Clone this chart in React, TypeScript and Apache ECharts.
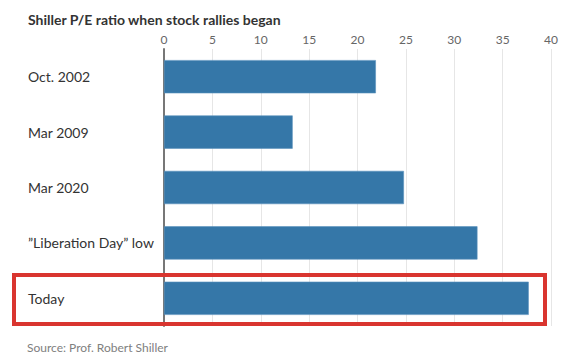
import React, { useEffect, useRef } from "react";
import * as echarts from "echarts";

const categories = ["Oct. 2002", "Mar 2009", "Mar 2020", "\u201dLiberation Day\u201d low", "Today"];
const peValues = [21.9, 13.3, 24.8, 32.4, 37.7];
const xTicks = [0, 5, 10, 15, 20, 25, 30, 35, 40];

export default function App() {
  const ref = useRef<HTMLDivElement>(null);
  useEffect(() => {
    if (!ref.current) return;
    const chart = echarts.init(ref.current, undefined, { renderer: "svg" });
    chart.setOption({
      animation: false,
      backgroundColor: "#ffffff",
      title: {
        text: "Shiller P/E ratio when stock rallies began",
        left: 23,
        top: 7,
        textStyle: { fontFamily: "Lato", fontWeight: "bold", fontSize: 14, color: "#333333" },
      },
      grid: { left: 164, right: 24, top: 49, bottom: 33, containLabel: false },
      xAxis: {
        type: "value",
        position: "top",
        min: xTicks[0],
        max: xTicks[xTicks.length - 1],
        interval: 5,
        axisLine: { show: false },
        axisTick: { show: false },
        axisLabel: {
          margin: 4,
          color: "#666666",
          fontSize: 12,
          fontFamily: "Liberation Sans Narrow, Lato",
        },
        splitLine: { show: true, lineStyle: { color: "#e6e6e6", width: 1 } },
      },
      yAxis: {
        type: "category",
        data: categories,
        inverse: true,
        axisLine: { show: true, lineStyle: { color: "#777777", width: 2 } },
        axisTick: { show: false },
        axisLabel: {
          align: "left",
          margin: 136,
          color: "#333333",
          fontSize: 14,
          fontFamily: "Lato",
        },
      },
      series: [
        {
          type: "bar",
          data: peValues,
          barWidth: "60%",
          itemStyle: { color: "#3577a8", borderColor: "#5a92bd", borderWidth: 0.6 },
        },
      ],
      graphic: [
        {
          type: "rect",
          shape: { x: 14, y: 275, width: 531, height: 49 },
          style: { fill: "none", stroke: "#d9352f", lineWidth: 4 },
          z: 10,
        },
        {
          type: "text",
          left: 27,
          top: 341,
          style: {
            text: "Source: Prof. Robert Shiller",
            fill: "#808080",
            fontSize: 12,
            fontFamily: "Lato",
          },
        },
      ],
    });
    return () => chart.dispose();
  }, []);
  return <div ref={ref} style={{ width: 575, height: 359, position: "absolute", left: 0, top: 0 }} />;
}
